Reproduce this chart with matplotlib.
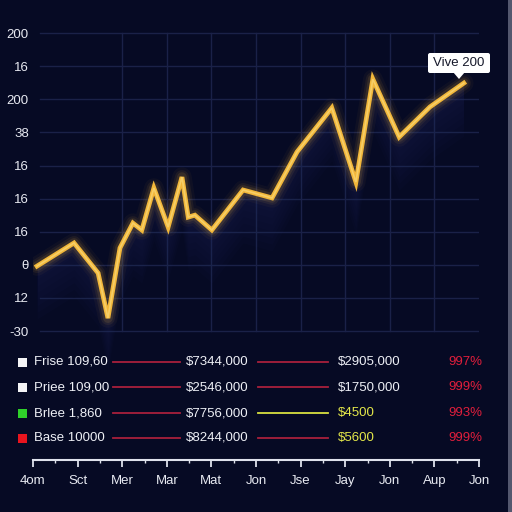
import matplotlib
matplotlib.use("Agg")
import matplotlib.pyplot as plt
import numpy as np
from matplotlib.patches import FancyBboxPatch, Polygon, Rectangle

plt.rcParams['font.family'] = ['Liberation Sans', 'DejaVu Sans']

# ---- data ----
x_vals = [0.09, 0.92, 1.46, 1.68, 1.95, 2.24, 2.44, 2.71, 3.03, 3.34, 3.48, 3.63,
          4.01, 4.71, 5.36, 5.92, 6.70, 7.24, 7.62, 8.21, 8.90, 9.66]
y_vals = [1.96, 2.66, 1.75, 0.39, 2.51, 3.26, 3.05, 4.32, 3.14, 4.65, 3.44, 3.50,
          3.05, 4.26, 4.02, 5.41, 6.74, 4.50, 7.61, 5.86, 6.77, 7.49]
y_tick_labels = ['-30', '12', 'θ', '16', '16', '16', '38', '200', '16', '200']
x_tick_labels = ['4om', 'Sct', 'Mer', 'Mar', 'Mat', 'Jon', 'Jse', 'Jay', 'Jon', 'Aup', 'Jon']
annotation_text = 'Vive 200'

row_labels = ['Frise 109,60', 'Priee 109,00', 'Brlee 1,860', 'Base 10000']
row_marker_colors = ['#f4f4f6', '#f4f4f6', '#2fd12a', '#e8141e']
col2_values = ['$7344,000', '$2546,000', '$7756,000', '$8244,000']
col3_values = ['$2905,000', '$1750,000', '$4500', '$5600']
col3_colors = ['#eef0f6', '#eef0f6', '#e4e84a', '#e4e84a']
connector_colors = ['#a8203c', '#a8203c', '#d8e040', '#a8203c']
pct_values = ['997%', '999%', '993%', '999%']

BG = '#060a24'
W = H = 512

fig = plt.figure(figsize=(5.12, 5.12), dpi=100, facecolor=BG)

def fx(px):
    return px / W

def fy(py):
    return 1 - py / H

# main axes: x 0..10 -> px 33..479 ; y: value 0 at px 331, 33.1 px/unit
ax_left, ax_right, ax_bottom_px, ax_top_px = 33, 479, 460, 0
ax = fig.add_axes([fx(ax_left), fy(ax_bottom_px), (ax_right - ax_left) / W,
                   (ax_bottom_px - ax_top_px) / H])
ax.set_facecolor(BG)
unit = 33.1
ax.set_xlim(0, 10)
ax.set_ylim((331 - ax_bottom_px) / unit, 331 / unit)

grid_c = '#1a2148'
for v in range(10):
    ax.plot([0.15, 10], [v, v], color=grid_c, lw=1.0, zorder=1)
for v in range(2, 10):
    ax.plot([v, v], [0, 9], color=grid_c, lw=1.0, zorder=1)

x = np.array(x_vals)
y = np.array(y_vals)

# haze under the line
for k in range(8):
    ax.fill_between(x, y - 0.2 * (k + 1), y, color='#2a3c78', alpha=0.04, lw=0, zorder=2)
# glow
for lw, a in [(14, 0.04), (10, 0.07), (7, 0.11)]:
    ax.plot(x, y, color='#f5b83d', lw=lw, alpha=a, solid_joinstyle='round',
            solid_capstyle='round', zorder=3)
ax.plot(x, y, color='#f2b73a', lw=3.4, solid_joinstyle='miter', zorder=4)
ax.plot(x, y, color='#f9df86', lw=1.2, alpha=0.6, solid_joinstyle='miter', zorder=5)

# y tick labels
ax.set_yticks(range(10))
ax.set_yticklabels(y_tick_labels, fontsize=9.5, color='#e8eaf2')
ax.tick_params(axis='y', length=0, pad=3)

# bottom axis
ax.set_xticks(range(11))
ax.set_xticklabels(x_tick_labels, fontsize=9.5, color='#e8eaf2')
ax.set_xticks(np.arange(0.5, 10, 1), minor=True)
ax.tick_params(axis='x', which='major', length=5, width=1.3, color='#dfe2ec', pad=6)
ax.tick_params(axis='x', which='minor', length=2.5, width=1.0, color='#dfe2ec')
for s in ['top', 'right', 'left']:
    ax.spines[s].set_visible(False)
ax.spines['bottom'].set_color('#dfe2ec')
ax.spines['bottom'].set_linewidth(1.5)

# annotation
bx0, bx1, by0, by1 = 428, 490, 53, 73
box = FancyBboxPatch((fx(bx0), fy(by1)), (bx1 - bx0) / W, (by1 - by0) / H,
                     boxstyle='round,pad=0,rounding_size=0.004',
                     transform=fig.transFigure, facecolor='#ffffff', edgecolor='none', zorder=10)
fig.patches.append(box)
tri = Polygon([(fx(453), fy(72)), (fx(465), fy(72)), (fx(459), fy(79))], closed=True,
              transform=fig.transFigure, facecolor='#ffffff', edgecolor='none', zorder=10)
fig.patches.append(tri)
fig.text(fx((bx0 + bx1) / 2), fy((by0 + by1) / 2), annotation_text, ha='center', va='center',
         fontsize=9.5, color='#15182a', zorder=11)

# table rows
row_y = [362, 387, 413, 438]
for i, py in enumerate(row_y):
    sq = Rectangle((fx(18), fy(py + 4.5)), 9 / W, 9 / H, transform=fig.transFigure,
                   facecolor=row_marker_colors[i], edgecolor='none')
    fig.patches.append(sq)
    fig.text(fx(34), fy(py), row_labels[i], ha='left', va='center', fontsize=9.5, color='#eef0f6')
    fig.add_artist(plt.Line2D([fx(113), fx(180)], [fy(py), fy(py)], color=connector_colors[0], lw=1.3,
                              transform=fig.transFigure))
    fig.text(fx(186), fy(py), col2_values[i], ha='left', va='center', fontsize=9.5, color='#eef0f6')
    fig.add_artist(plt.Line2D([fx(258), fx(328)], [fy(py), fy(py)], color=connector_colors[i], lw=1.3,
                              transform=fig.transFigure))
    fig.text(fx(338), fy(py), col3_values[i], ha='left', va='center', fontsize=9.5, color=col3_colors[i])
    fig.text(fx(448), fy(py), pct_values[i], ha='left', va='center', fontsize=9.5, color='#e01e3c')

# right edge strip
fig.patches.append(Rectangle((fx(508), 0), 4 / W, 1, transform=fig.transFigure,
                             facecolor='#a0a5b8', edgecolor='none', alpha=0.5))

fig.savefig('out.png', dpi=100, facecolor=BG)
